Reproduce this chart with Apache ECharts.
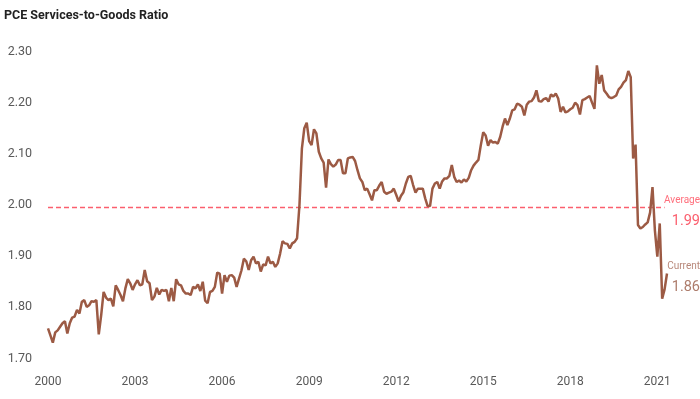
<!DOCTYPE html>
<html>
<head>
<meta charset="utf-8">
<script src="https://cdn.jsdelivr.net/npm/echarts@6/dist/echarts.min.js"></script>
<style>
  html, body { margin: 0; padding: 0; background: #fff; }
  #chart { width: 700px; height: 399px; }
</style>
</head>
<body>
<div id="chart"></div>
<script>
// monthly PCE services-to-goods ratio, Jan 2000 onward
const ratio = [
  1.759, 1.745, 1.731, 1.751, 1.755, 1.762, 1.769, 1.773, 1.749, 1.769, 1.780, 1.782,
  1.795, 1.788, 1.811, 1.814, 1.801, 1.804, 1.812, 1.811, 1.814, 1.747, 1.785, 1.830,
  1.819, 1.814, 1.817, 1.802, 1.843, 1.834, 1.824, 1.812, 1.837, 1.855, 1.847, 1.834,
  1.845, 1.853, 1.843, 1.845, 1.873, 1.851, 1.847, 1.814, 1.821, 1.838, 1.825, 1.834,
  1.832, 1.834, 1.812, 1.838, 1.812, 1.855, 1.845, 1.843, 1.832, 1.827, 1.827, 1.824,
  1.840, 1.837, 1.845, 1.832, 1.850, 1.813, 1.808, 1.830, 1.832, 1.840, 1.868, 1.866,
  1.827, 1.863, 1.850, 1.862, 1.863, 1.858, 1.840, 1.856, 1.872, 1.895, 1.890, 1.873,
  1.892, 1.899, 1.886, 1.889, 1.870, 1.884, 1.882, 1.899, 1.886, 1.889, 1.879, 1.886,
  1.905, 1.929, 1.925, 1.924, 1.915, 1.925, 1.928, 1.935, 2.000, 2.110, 2.150, 2.161,
  2.125, 2.117, 2.148, 2.140, 2.104, 2.091, 2.083, 2.034, 2.089, 2.080, 2.075, 2.079,
  2.088, 2.088, 2.062, 2.062, 2.091, 2.093, 2.094, 2.086, 2.068, 2.052, 2.045, 2.029,
  2.032, 2.021, 2.009, 2.029, 2.029, 2.038, 2.045, 2.026, 2.022, 2.024, 2.026, 2.032,
  2.020, 2.007, 2.018, 2.025, 2.042, 2.055, 2.057, 2.039, 2.024, 2.032, 2.032, 2.032,
  2.013, 1.998, 1.998, 2.032, 2.042, 2.045, 2.032, 2.046, 2.052, 2.052, 2.057, 2.078,
  2.055, 2.045, 2.048, 2.044, 2.050, 2.046, 2.053, 2.068, 2.077, 2.083, 2.088, 2.117,
  2.142, 2.136, 2.116, 2.127, 2.122, 2.123, 2.120, 2.133, 2.153, 2.169, 2.156, 2.169,
  2.185, 2.187, 2.198, 2.196, 2.192, 2.175, 2.196, 2.202, 2.203, 2.210, 2.224, 2.203,
  2.202, 2.207, 2.209, 2.202, 2.216, 2.212, 2.218, 2.208, 2.182, 2.192, 2.181, 2.183,
  2.187, 2.190, 2.200, 2.195, 2.177, 2.205, 2.207, 2.210, 2.213, 2.200, 2.188, 2.273,
  2.237, 2.254, 2.224, 2.218, 2.211, 2.209, 2.211, 2.214, 2.226, 2.231, 2.239, 2.244,
  2.262, 2.250, 2.091, 2.118, 1.961, 1.954, 1.957, 1.962, 1.966, 1.985, 2.035, 1.950,
  1.899, 1.964, 1.817, 1.835, 1.866
];

const startYear = 2000;
const tickYears = ['2000', '2003', '2006', '2009', '2012', '2015', '2018', '2021'];
const averageValue = 1.995;
const averageLabel = '1.99';
const currentLabel = '1.86';

const months = ratio.map((_, i) => {
  const y = startYear + Math.floor(i / 12);
  const m = (i % 12) + 1;
  return y + '-' + (m < 10 ? '0' + m : m);
});

const font = 'Roboto, sans-serif';
const last = ratio.length - 1;
const lineColor = '#9c5a44';
const avgColor = '#fb5f6e';

// two-line label (small word, big number) right-aligned to the chart edge
const sideLabel = (word, num, wordColor, numColor) => ({
  show: true,
  position: 'right',
  align: 'right',
  distance: 33,
  offset: [0, 4],
  formatter: '{a|' + word + '}\n{b|' + num + '}',
  rich: {
    a: { fontFamily: font, fontSize: 10, color: wordColor, lineHeight: 20, align: 'right' },
    b: { fontFamily: font, fontSize: 14.5, color: numColor, lineHeight: 22, align: 'right' }
  }
});

const chart = echarts.init(document.getElementById('chart'));

chart.setOption({
  animation: false,
  title: {
    text: 'PCE Services-to-Goods Ratio',
    left: 4,
    top: 9,
    padding: 0,
    textStyle: { fontFamily: font, fontWeight: 'bold', fontSize: 12.5, color: '#222' }
  },
  grid: { left: 48, right: 33, top: 51.5, bottom: 40.5 },
  xAxis: {
    type: 'category',
    data: months,
    boundaryGap: false,
    axisLine: { show: false },
    axisTick: { show: false },
    splitLine: { show: false },
    axisLabel: {
      interval: (i, v) => v.slice(5) === '01' && tickYears.includes(v.slice(0, 4)),
      formatter: v => v.slice(0, 4),
      color: '#595959',
      fontFamily: font,
      fontSize: 12,
      margin: 17
    }
  },
  yAxis: {
    type: 'value',
    min: 1.7,
    max: 2.3,
    interval: 0.1,
    axisLine: { show: false },
    axisTick: { show: false },
    splitLine: { show: false },
    axisLabel: {
      formatter: v => v.toFixed(2),
      color: '#595959',
      fontFamily: font,
      fontSize: 12.5,
      margin: 16
    }
  },
  series: [
    {
      name: 'Average',
      type: 'line',
      z: 1,
      silent: true,
      data: [[0, averageValue], [last - 1, averageValue]],
      showSymbol: false,
      lineStyle: { color: avgColor, width: 1.4, type: [5, 3] },
      itemStyle: { color: avgColor },
      markPoint: {
        silent: true,
        symbolSize: 0,
        data: [{ coord: [last, averageValue] }],
        label: sideLabel('Average', averageLabel, '#ff6f7c', avgColor)
      }
    },
    {
      name: 'Ratio',
      type: 'line',
      z: 2,
      data: ratio,
      showSymbol: false,
      lineStyle: { color: lineColor, width: 2.5 },
      itemStyle: { color: lineColor },
      markPoint: {
        silent: true,
        symbolSize: 0,
        data: [{ coord: [last, ratio[last]] }],
        label: sideLabel('Current', currentLabel, '#b8887a', '#ad7c6b')
      }
    }
  ]
});

window.addEventListener('resize', () => chart.resize());
</script>
</body>
</html>
